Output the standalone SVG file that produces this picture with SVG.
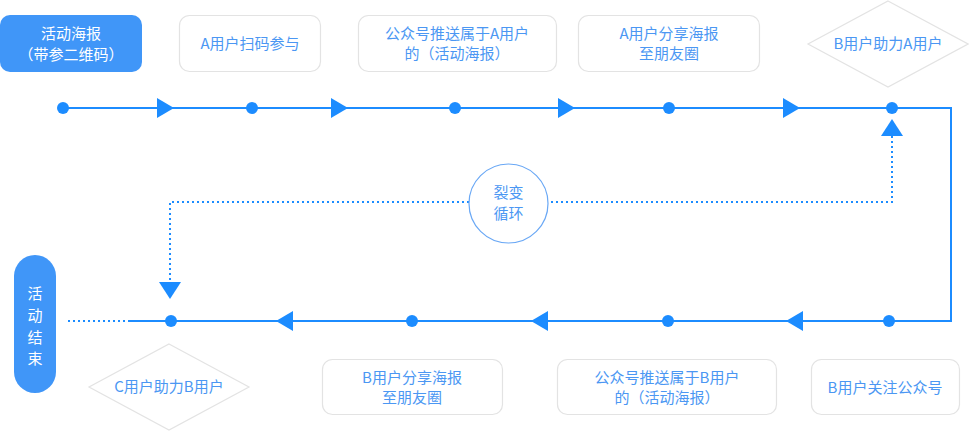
<svg xmlns="http://www.w3.org/2000/svg" width="969" height="431" viewBox="0 0 969 431">
<style>
text{font-family:"Noto Sans CJK SC","Noto Sans",sans-serif;font-size:15px;text-anchor:middle;fill:#4b97f3}
.box{fill:#fff;stroke:#e3e3e3;stroke-width:1.2}
.dia{fill:#fff;stroke:#e3e3e3;stroke-width:1.2}
.line{fill:none;stroke:#1c8cff;stroke-width:2}
.dot{fill:none;stroke:#1c8cff;stroke-width:2;stroke-dasharray:2 3}
.pt{fill:#1c8cff}
.w{fill:#fff}
</style>
<rect width="969" height="431" fill="#fff"/>
<g id="connectors">
<polyline class="line" points="63,108 951,108 951,321 130,321"/>
<line class="dot" x1="130" y1="321" x2="67" y2="321"/>
<polyline class="dot" points="892,136 892,202 548,202"/>
<polyline class="dot" points="469,202 170,202 170,284"/>
<polygon class="pt" points="157,98 174,108 157,118"/>
<polygon class="pt" points="331,98 348,108 331,118"/>
<polygon class="pt" points="558,98 575,108 558,118"/>
<polygon class="pt" points="783,98 800,108 783,118"/>
<polygon class="pt" points="293,311 276,321 293,331"/>
<polygon class="pt" points="548,311 531,321 548,331"/>
<polygon class="pt" points="803,311 786,321 803,331"/>
<polygon class="pt" points="881,136 892,119 903,136"/>
<polygon class="pt" points="159,282 181,282 170,299"/>
<circle class="pt" cx="63" cy="108" r="6"/>
<circle class="pt" cx="252" cy="108" r="6"/>
<circle class="pt" cx="455" cy="108" r="6"/>
<circle class="pt" cx="669" cy="108" r="6"/>
<circle class="pt" cx="892" cy="108" r="6"/>
<circle class="pt" cx="171" cy="321" r="6"/>
<circle class="pt" cx="412" cy="321" r="6"/>
<circle class="pt" cx="668" cy="321" r="6"/>
<circle class="pt" cx="889" cy="321" r="6"/>
</g>
<g id="start">
<rect x="0" y="15" width="142" height="57" rx="10" fill="#4096f8"/>
<text x="71" y="39" class="w">活动海报</text>
<text x="71" y="60" class="w">（带参二维码）</text>
</g>
<g id="scanA">
<rect class="box" x="179.5" y="15.5" width="141" height="56" rx="10"/>
<text x="250" y="49">A用户扫码参与</text>
</g>
<g id="pushA">
<rect class="box" x="358.5" y="15.5" width="198" height="56" rx="10"/>
<text x="457" y="39">公众号推送属于A用户</text>
<text x="457" y="59">的（活动海报）</text>
</g>
<g id="shareA">
<rect class="box" x="578.5" y="15.5" width="181" height="56" rx="10"/>
<text x="669" y="39">A用户分享海报</text>
<text x="669" y="59">至朋友圈</text>
</g>
<g id="helpA">
<polygon class="dia" points="888,1 968,44 888,87 808,44"/>
<text x="888" y="49">B用户助力A用户</text>
</g>
<g id="loop">
<circle cx="508.5" cy="203.5" r="39.5" fill="#fff" stroke="#6aa8f5" stroke-width="1.2"/>
<text x="508.5" y="198">裂变</text>
<text x="508.5" y="219">循环</text>
</g>
<g id="end">
<rect x="14" y="255" width="42" height="138" rx="21" fill="#4096f8"/>
<text x="35" y="299" class="w">活</text>
<text x="35" y="321" class="w">动</text>
<text x="35" y="343" class="w">结</text>
<text x="35" y="364" class="w">束</text>
</g>
<g id="helpB">
<polygon class="dia" points="169,344 249,387 169,430 89,387"/>
<text x="169" y="392">C用户助力B用户</text>
</g>
<g id="shareB">
<rect class="box" x="322.5" y="359.5" width="180" height="55" rx="10"/>
<text x="412" y="383">B用户分享海报</text>
<text x="412" y="403">至朋友圈</text>
</g>
<g id="pushB">
<rect class="box" x="557.5" y="359.5" width="219" height="55" rx="10"/>
<text x="667" y="383">公众号推送属于B用户</text>
<text x="667" y="403">的（活动海报）</text>
</g>
<g id="followB">
<rect class="box" x="811.5" y="359.5" width="148" height="55" rx="10"/>
<text x="885" y="393">B用户关注公众号</text>
</g>
</svg>
